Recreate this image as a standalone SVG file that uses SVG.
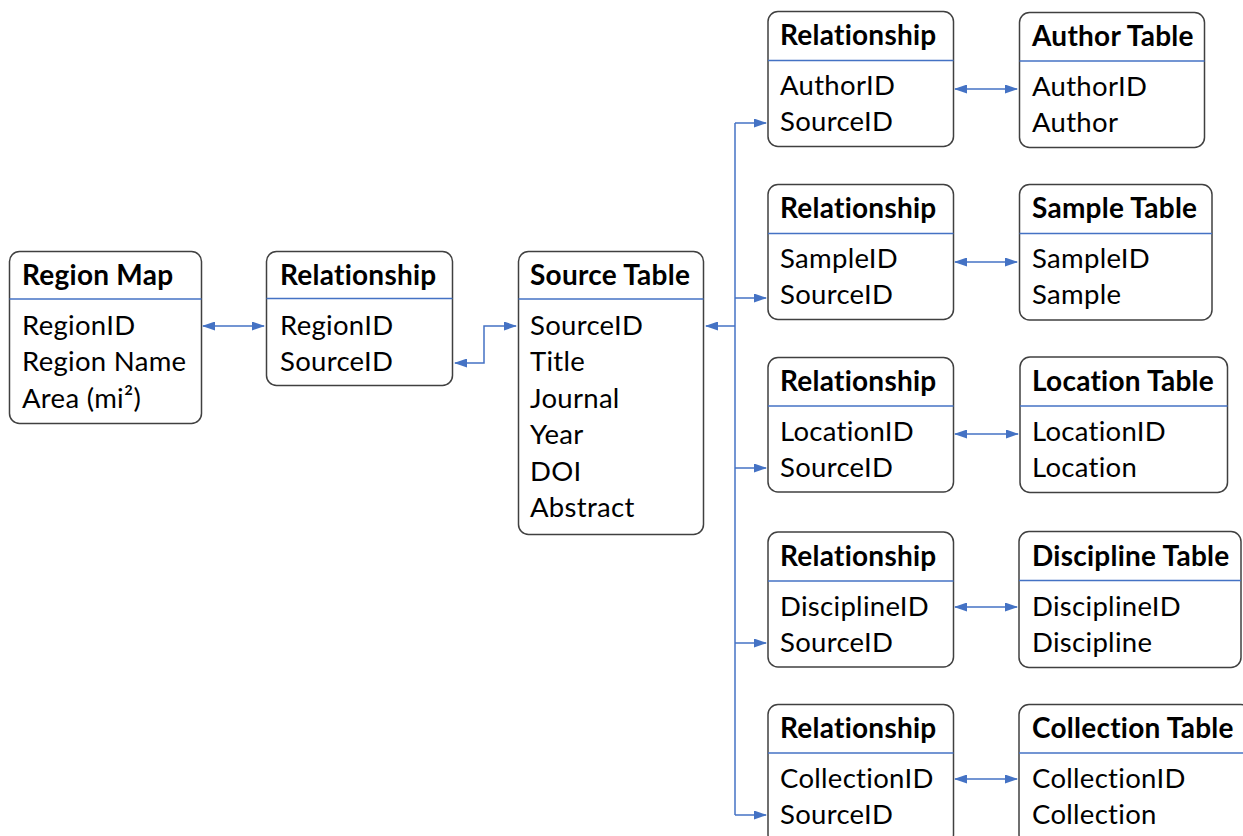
<svg xmlns="http://www.w3.org/2000/svg" width="1243" height="836" viewBox="0 0 1243 836">
<style>
.box{fill:#fff;stroke:#404040;stroke-width:1.5}
.hdr{stroke:#4472C4;stroke-width:1.5}
.t{font-family:Lato,"Liberation Sans",sans-serif;font-size:28px;font-weight:bold;fill:#000;letter-spacing:0.25px}
.r{font-family:Lato,"Liberation Sans",sans-serif;font-size:27.5px;fill:#000;letter-spacing:0.3px}
.c{fill:none;stroke:#4472C4;stroke-width:1.5}
</style>
<defs>
<marker id="ah" viewBox="0 0 13 9" refX="12" refY="4.5" markerWidth="13" markerHeight="9" markerUnits="userSpaceOnUse" orient="auto-start-reverse">
<path d="M0,0 L13,4.5 L0,9 z" fill="#4472C4"/>
</marker>
</defs>
<rect width="1243" height="836" fill="#fff"/>
<g id="connectors">
<path class="c" d="M203,326 H264" marker-start="url(#ah)" marker-end="url(#ah)"/>
<path class="c" d="M455,363 H484 V326 H516" marker-start="url(#ah)" marker-end="url(#ah)"/>
<path class="c" d="M706,326 H735" marker-start="url(#ah)"/>
<path class="c" d="M735,123 V815"/>
<path class="c" d="M735,123 H766" marker-end="url(#ah)"/>
<path class="c" d="M735,298 H766" marker-end="url(#ah)"/>
<path class="c" d="M735,468 H766" marker-end="url(#ah)"/>
<path class="c" d="M735,643 H766" marker-end="url(#ah)"/>
<path class="c" d="M735,815 H766" marker-end="url(#ah)"/>
<path class="c" d="M955,89 H1017" marker-start="url(#ah)" marker-end="url(#ah)"/>
<path class="c" d="M955,262 H1017" marker-start="url(#ah)" marker-end="url(#ah)"/>
<path class="c" d="M955,434 H1018" marker-start="url(#ah)" marker-end="url(#ah)"/>
<path class="c" d="M955,607 H1017" marker-start="url(#ah)" marker-end="url(#ah)"/>
<path class="c" d="M955,779 H1017" marker-start="url(#ah)" marker-end="url(#ah)"/>
</g>
<g id="region-map">
<rect class="box" x="9.5" y="251.5" width="192" height="172" rx="10"/>
<line class="hdr" x1="9.5" y1="299" x2="201.5" y2="299"/>
<text class="t" x="22" y="284.5">Region Map</text>
<text class="r" x="22" y="334.5">RegionID</text>
<text class="r" x="22" y="371">Region Name</text>
<text class="r" x="22" y="407.5">Area (mi²)</text>
</g>
<g id="rel-region">
<rect class="box" x="266.5" y="251.5" width="186" height="134" rx="10"/>
<line class="hdr" x1="266.5" y1="298.5" x2="452.5" y2="298.5"/>
<text class="t" x="280" y="284.5">Relationship</text>
<text class="r" x="280" y="334.5">RegionID</text>
<text class="r" x="280" y="371">SourceID</text>
</g>
<g id="source-table">
<rect class="box" x="518.5" y="251.5" width="185" height="283" rx="10"/>
<line class="hdr" x1="518.5" y1="299" x2="703.5" y2="299"/>
<text class="t" x="530" y="284.5">Source Table</text>
<text class="r" x="530" y="334.5">SourceID</text>
<text class="r" x="530" y="371">Title</text>
<text class="r" x="530" y="407.5">Journal</text>
<text class="r" x="530" y="444">Year</text>
<text class="r" x="530" y="480.5">DOI</text>
<text class="r" x="530" y="517">Abstract</text>
</g>
<g id="rel-author">
<rect class="box" x="768" y="11.5" width="185.5" height="135" rx="10"/>
<line class="hdr" x1="768" y1="60.5" x2="953.5" y2="60.5"/>
<text class="t" x="780" y="44.5">Relationship</text>
<text class="r" x="780" y="94.5">AuthorID</text>
<text class="r" x="780" y="131">SourceID</text>
</g>
<g id="author-table">
<rect class="box" x="1019.5" y="12.5" width="185" height="135" rx="10"/>
<line class="hdr" x1="1019.5" y1="61" x2="1204.5" y2="61"/>
<text class="t" x="1032" y="45.5">Author Table</text>
<text class="r" x="1032" y="95.5">AuthorID</text>
<text class="r" x="1032" y="132">Author</text>
</g>
<g id="rel-sample">
<rect class="box" x="768" y="184.5" width="185.5" height="135" rx="10"/>
<line class="hdr" x1="768" y1="233.5" x2="953.5" y2="233.5"/>
<text class="t" x="780" y="217.5">Relationship</text>
<text class="r" x="780" y="267.5">SampleID</text>
<text class="r" x="780" y="304">SourceID</text>
</g>
<g id="sample-table">
<rect class="box" x="1019.5" y="184.5" width="192.5" height="135.5" rx="10"/>
<line class="hdr" x1="1019.5" y1="233.5" x2="1212" y2="233.5"/>
<text class="t" x="1032" y="217.5">Sample Table</text>
<text class="r" x="1032" y="267.5">SampleID</text>
<text class="r" x="1032" y="304">Sample</text>
</g>
<g id="rel-location">
<rect class="box" x="768" y="357.5" width="185.5" height="134.5" rx="10"/>
<line class="hdr" x1="768" y1="406" x2="953.5" y2="406"/>
<text class="t" x="780" y="390.5">Relationship</text>
<text class="r" x="780" y="440.5">LocationID</text>
<text class="r" x="780" y="477">SourceID</text>
</g>
<g id="location-table">
<rect class="box" x="1020" y="357" width="207.5" height="135.5" rx="10"/>
<line class="hdr" x1="1020" y1="406" x2="1227.5" y2="406"/>
<text class="t" x="1032" y="390.5">Location Table</text>
<text class="r" x="1032" y="440.5">LocationID</text>
<text class="r" x="1032" y="477">Location</text>
</g>
<g id="rel-discipline">
<rect class="box" x="768" y="532" width="185.5" height="135" rx="10"/>
<line class="hdr" x1="768" y1="581" x2="953.5" y2="581"/>
<text class="t" x="780" y="565.5">Relationship</text>
<text class="r" x="780" y="615.5">DisciplineID</text>
<text class="r" x="780" y="652">SourceID</text>
</g>
<g id="discipline-table">
<rect class="box" x="1019" y="531.5" width="222" height="136" rx="10"/>
<line class="hdr" x1="1019" y1="580.5" x2="1241" y2="580.5"/>
<text class="t" x="1032" y="565.5">Discipline Table</text>
<text class="r" x="1032" y="615.5">DisciplineID</text>
<text class="r" x="1032" y="652">Discipline</text>
</g>
<g id="rel-collection">
<rect class="box" x="768" y="704.5" width="185.5" height="140" rx="10"/>
<line class="hdr" x1="768" y1="753" x2="953.5" y2="753"/>
<text class="t" x="780" y="737.5">Relationship</text>
<text class="r" x="780" y="787.5">CollectionID</text>
<text class="r" x="780" y="824">SourceID</text>
</g>
<g id="collection-table">
<rect class="box" x="1019" y="704.5" width="232" height="140" rx="10"/>
<line class="hdr" x1="1019" y1="753" x2="1251" y2="753"/>
<text class="t" x="1032" y="737.5">Collection Table</text>
<text class="r" x="1032" y="787.5">CollectionID</text>
<text class="r" x="1032" y="824">Collection</text>
</g>
</svg>
